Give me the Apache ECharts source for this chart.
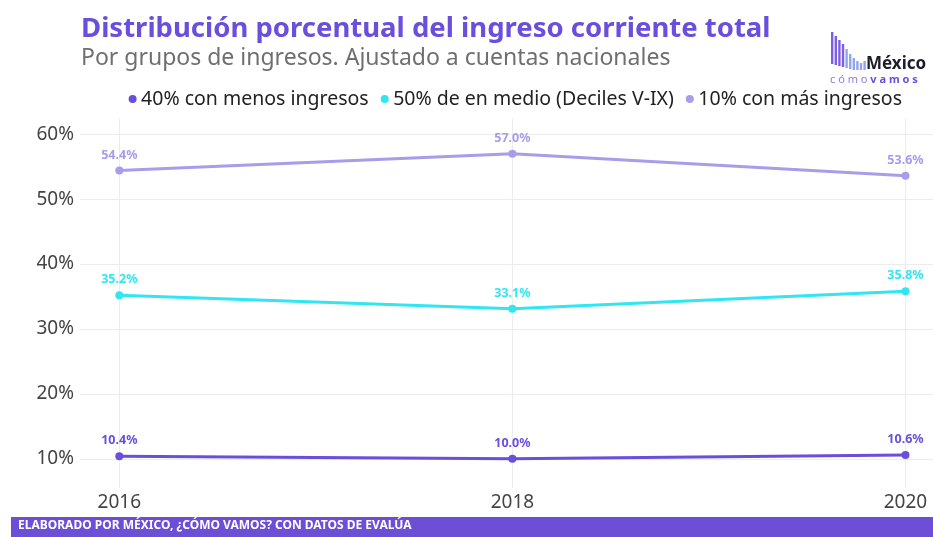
<!DOCTYPE html>
<html>
<head>
<meta charset="utf-8">
<script src="https://cdn.jsdelivr.net/npm/echarts@6/dist/echarts.min.js"></script>
<style>
  html, body { margin: 0; padding: 0; background: #fff; }
  #chart { width: 933px; height: 537px; }
</style>
</head>
<body>
<div id="chart"></div>
<script>
// datos
const years = [2016, 2018, 2020];
const seriesNames = ['40% con menos ingresos', '50% de en medio (Deciles V-IX)', '10% con más ingresos'];
const bottom40 = [10.4, 10.0, 10.6];
const middle50 = [35.2, 33.1, 35.8];
const top10 = [54.4, 57.0, 53.6];
const yTicks = [10, 20, 30, 40, 50, 60];
const colors = ['#6a4fdc', '#2fe6f2', '#a99ce9'];

const font = 'Noto Sans';
const chart = echarts.init(document.getElementById('chart'));

function pairs(vals) {
  return vals.map((v, i) => [years[i], v]);
}

function makeSeries(name, vals, color) {
  return {
    name: name,
    type: 'line',
    data: pairs(vals),
    symbol: 'circle',
    symbolSize: 8,
    lineStyle: { width: 3, color: color },
    itemStyle: { color: color },
    label: {
      show: true,
      position: 'top',
      distance: 5,
      color: color,
      fontFamily: font,
      fontWeight: 'bold',
      fontSize: 12.5,
      formatter: p => p.value[1].toFixed(1) + '%'
    }
  };
}

// barras del logo (decorativas)
const logoBars = [];
const barH = [32, 29, 26, 23, 19, 15, 12, 9, 7, 9];
for (let i = 0; i < barH.length; i++) {
  logoBars.push({
    type: 'rect',
    shape: { x: 831 + i * 3.6, y: 70 - barH[i] - (i < 6 ? (6 - i) : 0), width: 2.4, height: barH[i] },
    style: { fill: i < 4 ? '#7b5fe0' : '#8fa6ee' }
  });
}

chart.setOption({
  animation: false,
  color: colors,
  title: [{
    text: 'Distribución porcentual del ingreso corriente total',
    left: 76,
    top: 10,
    textStyle: { fontFamily: font, fontWeight: 'bold', fontSize: 27.5, color: '#6a4fdc' }
  }, {
    text: 'Por grupos de ingresos. Ajustado a cuentas nacionales',
    left: 76,
    top: 42,
    textStyle: { fontFamily: font, fontWeight: 'normal', fontSize: 23, color: '#6f6f6f' }
  }],
  legend: {
    top: 84,
    right: 26,
    icon: 'circle',
    itemWidth: 11,
    itemHeight: 8,
    itemGap: 12,
    textStyle: { fontFamily: font, fontSize: 19.5, color: '#222', padding: [0, 0, 0, -2] },
    data: seriesNames
  },
  grid: { left: 80, right: 0, top: 118, bottom: 49, containLabel: false },
  xAxis: {
    type: 'value',
    min: 2015.8,
    max: 2020.14,
    axisLine: { show: false },
    axisTick: { show: false, customValues: years },
    axisLabel: {
      customValues: years,
      fontFamily: font, fontSize: 19, color: '#444', margin: 5,
      formatter: v => String(v)
    },
    splitLine: { show: true, lineStyle: { color: '#ececec', width: 1 } }
  },
  yAxis: {
    type: 'value',
    min: 5.5,
    max: 62.5,
    axisLine: { show: false },
    axisTick: { show: false, customValues: yTicks },
    axisLabel: {
      customValues: yTicks,
      fontFamily: font, fontSize: 19, color: '#444', margin: 6,
      formatter: v => v + '%'
    },
    splitLine: { show: true, lineStyle: { color: '#ececec', width: 1 } }
  },
  series: [
    makeSeries(seriesNames[0], bottom40, colors[0]),
    makeSeries(seriesNames[1], middle50, colors[1]),
    makeSeries(seriesNames[2], top10, colors[2])
  ],
  graphic: [
    {
      type: 'rect',
      shape: { x: 11, y: 517, width: 922, height: 20 },
      style: { fill: '#6c4fd6' }
    },
    {
      type: 'text',
      left: 18,
      top: 520,
      style: {
        text: 'ELABORADO POR MÉXICO, ¿CÓMO VAMOS? CON DATOS DE EVALÚA',
        fill: '#fff', fontFamily: font, fontWeight: 'bold', fontSize: 12
      }
    },
    {
      type: 'group',
      children: logoBars.concat([
        {
          type: 'text',
          x: 866, y: 56,
          style: { text: 'México', fill: '#1e1e2a', fontFamily: font, fontWeight: 'bold', fontSize: 17 }
        },
        {
          type: 'text',
          x: 830, y: 74,
          style: {
            text: '{a|c ó m o }{b|v a m o s}',
            rich: {
              a: { fill: '#8e7be6', fontFamily: font, fontSize: 11 },
              b: { fill: '#6a4fdc', fontFamily: font, fontWeight: 'bold', fontSize: 11 }
            }
          }
        }
      ])
    }
  ]
});
</script>
</body>
</html>
